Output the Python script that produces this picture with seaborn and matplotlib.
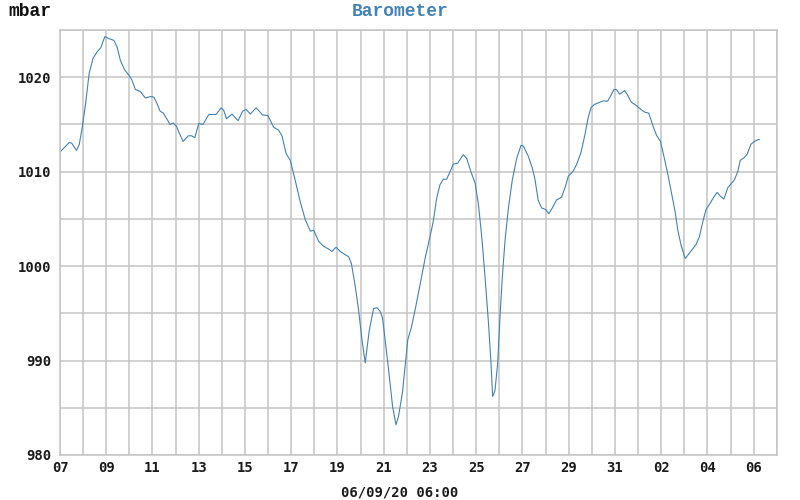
import numpy as np
import pandas as pd
import matplotlib
matplotlib.use("Agg")
import matplotlib.pyplot as plt
import matplotlib.dates as mdates
import seaborn as sns

# days since 2020-08-07 00:00 and barometer readings (mbar)
days = [0.0, 0.09, 0.40, 0.51, 0.71, 0.83, 0.97, 1.11, 1.26, 1.43, 1.61, 1.76, 1.94, 2.11, 2.33,
        2.47, 2.61, 2.79, 2.97, 3.11, 3.26, 3.47, 3.69, 3.90, 4.06, 4.19, 4.33, 4.47, 4.76,
        4.90, 5.04, 5.14, 5.32, 5.55, 5.69, 5.83, 6.0, 6.18, 6.44, 6.75, 6.97, 7.08, 7.20,
        7.44, 7.70, 7.90, 8.05, 8.23, 8.48, 8.62, 8.76, 8.99, 9.09, 9.24, 9.45, 9.60, 9.78,
        9.96, 10.17, 10.39, 10.61, 10.83, 10.97, 11.19, 11.40, 11.62, 11.76, 11.94, 12.12,
        12.34, 12.48, 12.60, 12.77, 12.91, 13.06, 13.20, 13.37, 13.56, 13.71, 13.85, 13.95,
        14.06, 14.21, 14.38, 14.53, 14.64, 14.81, 15.04, 15.19, 15.36, 15.57, 15.78, 16.0,
        16.14, 16.29, 16.43, 16.58, 16.72, 16.87, 17.01, 17.20, 17.44, 17.59, 17.77, 17.95,
        18.09, 18.24, 18.38, 18.53, 18.64, 18.71, 18.81, 18.93, 19.03, 19.13, 19.25, 19.39,
        19.56, 19.75, 19.94, 20.04, 20.26, 20.43, 20.54, 20.68, 20.83, 21.0, 21.14, 21.29,
        21.47, 21.69, 21.86, 21.98, 22.19, 22.34, 22.53, 22.70, 22.84, 22.96, 23.10, 23.30,
        23.49, 23.68, 23.82, 23.96, 24.06, 24.21, 24.42, 24.57, 24.71, 24.93, 25.12, 25.29,
        25.46, 25.65, 25.79, 25.97, 26.12, 26.29, 26.46, 26.60, 26.72, 26.86, 27.04, 27.15,
        27.32, 27.51, 27.65, 27.80, 27.94, 28.13, 28.27, 28.42, 28.56, 28.71, 28.88, 29.02,
        29.17, 29.31, 29.42, 29.57, 29.71, 29.88, 30.03, 30.20, 30.25]
pressure = [1012.1, 1012.3, 1013.1, 1013.0, 1012.25, 1012.85, 1014.8, 1017.25, 1020.4, 1022.0,
            1022.7, 1023.1, 1024.3, 1024.1, 1023.9, 1023.2, 1021.8, 1020.8, 1020.25, 1019.7,
            1018.7, 1018.5, 1017.8, 1017.95, 1017.9, 1017.25, 1016.4, 1016.2, 1015.0, 1015.15,
            1014.8, 1014.2, 1013.2, 1013.8, 1013.8, 1013.6, 1015.1, 1015.0, 1016.06, 1016.06,
            1016.76, 1016.5, 1015.6, 1016.1, 1015.4, 1016.4, 1016.6, 1016.1, 1016.76, 1016.4,
            1016.0, 1015.95, 1015.45, 1014.7, 1014.4, 1013.8, 1011.9, 1011.2, 1009.1, 1006.8,
            1004.9, 1003.7, 1003.8, 1002.6, 1002.1, 1001.8, 1001.55, 1002.0, 1001.55, 1001.2,
            1001.0, 1000.3, 997.85, 995.4, 992.2, 989.75, 993.1, 995.5, 995.6, 995.2, 994.5,
            992.2, 989.05, 985.2, 983.2, 984.1, 986.6, 992.2, 993.45, 995.4, 998.0, 1000.7,
            1003.1, 1004.7, 1007.2, 1008.6, 1009.2, 1009.2, 1010.0, 1010.8, 1010.9, 1011.8,
            1011.4, 1010.0, 1008.8, 1006.65, 1003.1, 998.9, 994.0, 989.75, 986.2, 986.8,
            989.75, 994.7, 998.9, 1002.8, 1006.1, 1009.1, 1011.4, 1012.8, 1012.7, 1011.6,
            1010.35, 1009.2, 1007.0, 1006.15, 1006.0, 1005.55, 1006.15, 1007.0, 1007.3,
            1008.45, 1009.5, 1010.05, 1010.75, 1012.0, 1013.9, 1015.7, 1016.75, 1017.1,
            1017.3, 1017.5, 1017.45, 1018.05, 1018.7, 1018.7, 1018.2, 1018.6, 1018.0, 1017.35,
            1017.0, 1016.6, 1016.3, 1016.2, 1014.8, 1013.9, 1013.2, 1011.6, 1009.7, 1007.55,
            1005.8, 1003.8, 1002.2, 1000.8, 1001.15, 1001.7, 1002.3, 1003.1, 1004.7, 1006.0,
            1006.7, 1007.3, 1007.8, 1007.4, 1007.1, 1008.3, 1008.7, 1009.15, 1010.0, 1011.2,
            1011.45, 1011.8, 1012.9, 1013.2, 1013.4, 1013.4]

start = pd.Timestamp("2020-08-07")
end = pd.Timestamp("2020-09-07")
df = pd.DataFrame({"time": start + pd.to_timedelta(days, unit="D"), "pressure": pressure})

sns.set_theme(style="white")
plt.rcParams["font.family"] = ["DejaVu Sans Mono"]

blue = "#4282b4"
grid = "#c4c4c4"

fig = plt.figure(figsize=(8, 5), dpi=100)
ax = fig.add_axes([0.075, 0.09, 0.896, 0.85])

sns.lineplot(data=df, x="time", y="pressure", ax=ax, color=blue, linewidth=0.8)

ax.set_xlim(start, end)
ax.set_ylim(980, 1025)
ax.set_xticks(pd.date_range(start, end - pd.Timedelta(days=1), freq="2D"))
ax.set_xticks(pd.date_range(start, end, freq="D"), minor=True)
ax.xaxis.set_major_formatter(mdates.DateFormatter("%d"))
ax.set_yticks(np.arange(980, 1021, 10))
ax.set_yticks(np.arange(980, 1026, 5), minor=True)

ax.grid(True, which="both", color=grid, linewidth=1.1)
ax.set_axisbelow(True)
for s in ax.spines.values():
    s.set_color(grid)
    s.set_linewidth(1.1)

ax.tick_params(which="both", length=0)
ax.tick_params(axis="x", pad=4, labelsize=10)
ax.tick_params(axis="y", pad=6, labelsize=10)
for lab in ax.get_xticklabels() + ax.get_yticklabels():
    lab.set_fontweight("bold")
    lab.set_color("#1a1a1a")
ax.set_xlabel("")
ax.set_ylabel("")

fig.text(0.01, 0.978, "mbar", fontsize=13, fontweight="bold", family="Liberation Mono",
         va="center", ha="left", color="#111111")
fig.text(0.5, 0.978, "Barometer", fontsize=13, fontweight="bold", family="Liberation Mono",
         va="center", ha="center", color=blue)
fig.text(0.5, 0.016, "06/09/20 06:00", fontsize=10, fontweight="bold", va="center",
         ha="center", color="#1a1a1a")

fig.savefig("out.png", dpi=100)
